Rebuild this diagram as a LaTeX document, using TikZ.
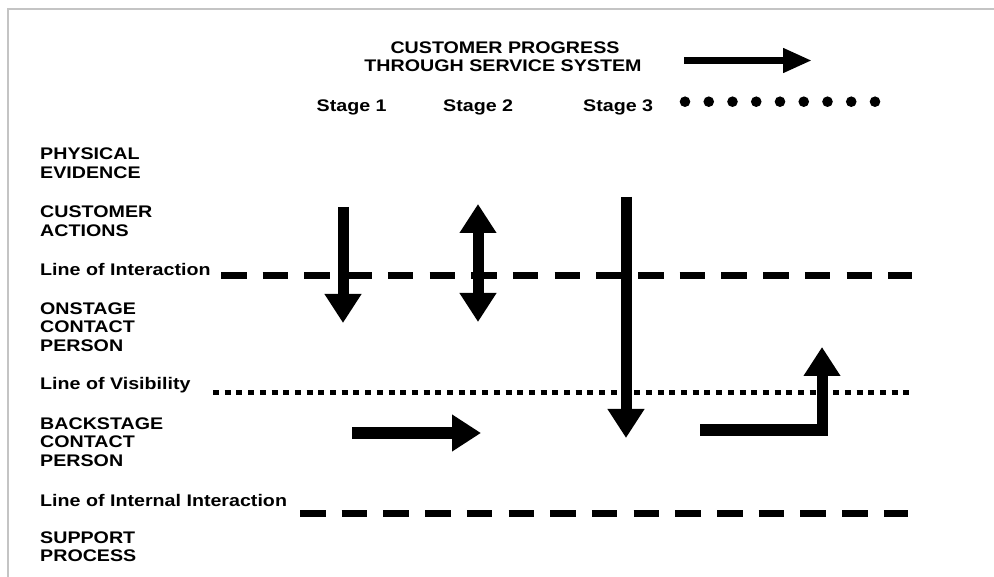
\documentclass[tikz,border=0pt]{standalone}
\usepackage{fontspec}
\setmainfont{Liberation Sans}[FakeStretch=1.17]
\usetikzlibrary{arrows.meta}
\definecolor{framegray}{HTML}{C4C4C4}
\begin{document}
\begin{tikzpicture}[x=1pt,y=-1pt,
  % multi-line labels are placed by the baseline of their last line
  lbl/.style={anchor=base west,inner sep=0pt,align=left,
    font=\fontsize{16.8}{18.5}\selectfont\bfseries},
  ttl/.style={inner sep=0pt,align=center,
    font=\fontsize{16.8}{17}\selectfont\bfseries},
  bigarrow/.style={line width=11pt,-{Triangle[width=35pt,length=29pt]}},
  dbigarrow/.style={line width=11pt,{Triangle[width=35pt,length=29pt]}-{Triangle[width=35pt,length=29pt]}},
  dashline/.style={line width=7pt,dash pattern=on 25.5pt off 16.2pt},
  dotline/.style={line width=5pt,dash pattern=on 6pt off 5.7pt}]
\useasboundingbox (0,0) rectangle (994,577);
% frame
\draw[framegray,line width=2pt] (8,577) -- (8,9) -- (994,9);

% heading
\node[ttl,anchor=base] (title1) at (505,54) {CUSTOMER PROGRESS};
\node[ttl,anchor=base] (title2) at (503,71.5) {THROUGH SERVICE SYSTEM};
\coordinate (pgA) at (684,60.5);
\coordinate (pgB) at (812,60.5);
\draw[line width=7.5pt,-{Triangle[width=23pt,length=29pt]}] (pgA) -- (pgB);

% stages
\node[lbl] (st1) at (316.5,111.5) {Stage 1};
\node[lbl] (st2) at (443,111.5) {Stage 2};
\node[lbl] (st3) at (583,111.5) {Stage 3};
\foreach \i in {0,...,8} \fill (685+23.75*\i,101.7) circle (5.3);

% row labels
\node[lbl] (pe) at (40,178.5) {PHYSICAL\\EVIDENCE};
\node[lbl] (ca) at (40,236.3) {CUSTOMER\\ACTIONS};
\node[lbl] (li) at (40,276) {Line of Interaction};
\node[lbl] (oc) at (40,351.5) {ONSTAGE\\CONTACT\\PERSON};
\node[lbl] (lv) at (40,389.5) {Line of Visibility};
\node[lbl] (bc) at (40,466) {BACKSTAGE\\CONTACT\\PERSON};
\node[lbl] (lii) at (40,506.7) {Line of Internal Interaction};
\node[lbl] (sp) at (40,561.8) {SUPPORT\\PROCESS};

% separation lines
\coordinate (liA) at (221,276);  \coordinate (liB) at (912,276);
\coordinate (lvA) at (213,392.3); \coordinate (lvB) at (910,392.3);
\coordinate (liiA) at (300,513.3); \coordinate (liiB) at (908,513.3);
\draw[dashline] (liA) -- (liB);
\draw[dotline] (lvA) -- (lvB);
\draw[dashline] (liiA) -- (liiB);

% flow arrows
\coordinate (a1s) at (343,207);  \coordinate (a1e) at (343,323);
\coordinate (a2s) at (478,204);  \coordinate (a2e) at (478,322);
\coordinate (a3s) at (626,197);  \coordinate (a3e) at (626,438);
\coordinate (a4s) at (352,433);  \coordinate (a4e) at (481,433);
\coordinate (a5s) at (700,430);  \coordinate (a5e) at (822,347);
\draw[bigarrow] (a1s) -- (a1e);
\draw[dbigarrow] (a2s) -- (a2e);
\draw[bigarrow] (a3s) -- (a3e);
\draw[bigarrow] (a4s) -- (a4e);
\draw[bigarrow,line join=miter] (a5s) -| (a5e);
\end{tikzpicture}
\end{document}
